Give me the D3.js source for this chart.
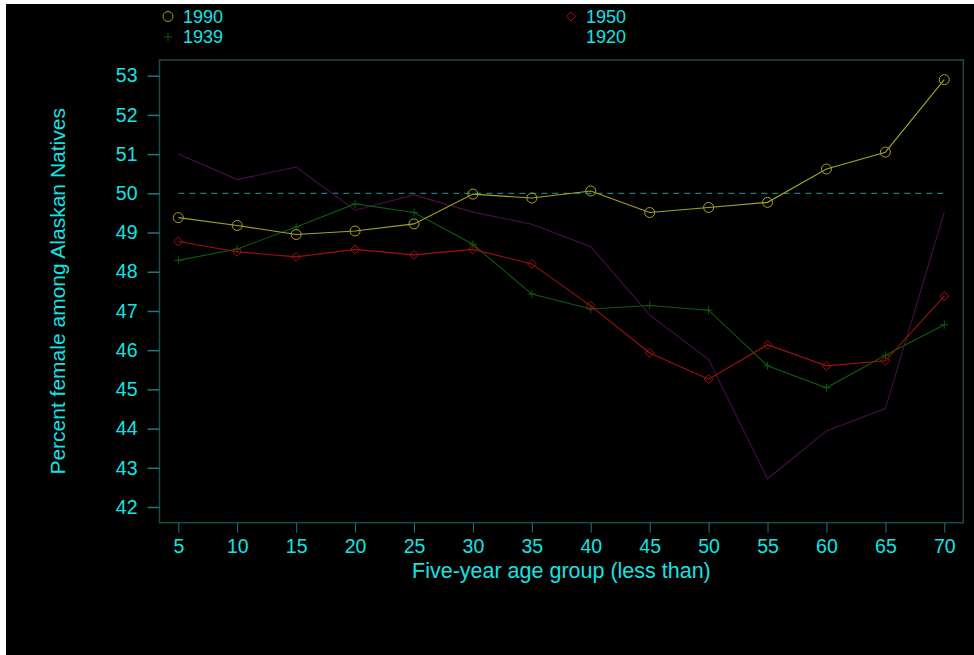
<!DOCTYPE html>
<html>
<head>
<meta charset="utf-8">
<script src="https://cdn.jsdelivr.net/npm/d3@7/dist/d3.min.js"></script>
<style>
  html, body { margin: 0; padding: 0; background: #ffffff; }
  svg { display: block; }
  text { font-family: "Liberation Sans", Arial, sans-serif; }
</style>
</head>
<body>
<svg id="chart" width="974" height="655"></svg>
<script>
// Age groups (upper bound of each five-year group)
const ages = [5, 10, 15, 20, 25, 30, 35, 40, 45, 50, 55, 60, 65, 70];

// Percent female among Alaskan Natives, by census year
const pct1990 = [49.38, 49.18, 48.95, 49.04, 49.22, 49.98, 49.88, 50.06, 49.51, 49.64, 49.77, 50.62, 51.05, 52.90];
const pct1950 = [48.77, 48.51, 48.38, 48.57, 48.43, 48.57, 48.20, 47.13, 45.93, 45.26, 46.14, 45.60, 45.73, 47.38];
const pct1939 = [48.29, 48.58, 49.14, 49.73, 49.51, 48.70, 47.43, 47.05, 47.14, 47.02, 45.60, 45.04, 45.87, 46.65];
const pct1920 = [51.00, 50.35, 50.67, 49.57, 49.96, 49.52, 49.21, 48.64, 46.90, 45.76, 42.72, 43.94, 44.51, 49.52];

const yTicks = [42, 43, 44, 45, 46, 47, 48, 49, 50, 51, 52, 53];
const parity = 50;

const series = [
  { name: "1990", values: pct1990, color: "#a3a326", marker: "circle" },
  { name: "1939", values: pct1939, color: "#0c5c0c", marker: "plus" },
  { name: "1950", values: pct1950, color: "#a01010", marker: "diamond" },
  { name: "1920", values: pct1920, color: "#4a0d4a", marker: "none" }
];

const svg = d3.select("#chart");
const W = 974, H = 655;

// dark canvas with thin light margin at top and left
svg.append("rect").attr("x", 6).attr("y", 4).attr("width", W - 6).attr("height", H - 4).attr("fill", "#000000");

const frame = { left: 159.5, top: 60, right: 963.3, bottom: 522.7 };

const x = d3.scaleLinear().domain([5, 70]).range([178.3, 944.3]);
const y = d3.scaleLinear().domain([42, 53]).range([507, 75.7]);

const labelColor = "#14e3e3";
const tickColor = "#237777";
const frameColor = "#1b4c4c";

// plot frame
svg.append("rect")
  .attr("x", frame.left).attr("y", frame.top)
  .attr("width", frame.right - frame.left).attr("height", frame.bottom - frame.top)
  .attr("fill", "none").attr("stroke", frameColor).attr("stroke-width", 1.5);

// y axis
const yAxis = d3.axisLeft(y).tickValues(yTicks).tickSize(12).tickPadding(10).tickFormat(d3.format("d"));
const gy = svg.append("g").attr("transform", `translate(${frame.left},0)`).call(yAxis);
gy.select(".domain").remove();
gy.selectAll(".tick line").attr("stroke", tickColor).attr("stroke-width", 1.5);
gy.selectAll(".tick text").attr("fill", labelColor).attr("font-size", 19.5)
  .attr("font-family", "Liberation Sans, Arial, sans-serif");

// x axis
const xAxis = d3.axisBottom(x).tickValues(ages).tickSize(10).tickPadding(6).tickFormat(d3.format("d"));
const gx = svg.append("g").attr("transform", `translate(0,${frame.bottom})`).call(xAxis);
gx.select(".domain").remove();
gx.selectAll(".tick line").attr("stroke", tickColor).attr("stroke-width", 1);
gx.selectAll(".tick text").attr("fill", labelColor).attr("font-size", 19.5)
  .attr("font-family", "Liberation Sans, Arial, sans-serif");

// axis titles
svg.append("text")
  .attr("x", (frame.left + frame.right) / 2).attr("y", 578)
  .attr("text-anchor", "middle").attr("fill", labelColor).attr("font-size", 21.5)
  .text("Five-year age group (less than)");

svg.append("text")
  .attr("transform", `translate(65,${(frame.top + frame.bottom) / 2}) rotate(-90)`)
  .attr("text-anchor", "middle").attr("fill", labelColor).attr("font-size", 21)
  .text("Percent female among Alaskan Natives");

// 50% reference line
svg.append("line")
  .attr("x1", x(5)).attr("x2", x(70))
  .attr("y1", y(parity)).attr("y2", y(parity))
  .attr("stroke", tickColor).attr("stroke-width", 1.2).attr("stroke-dasharray", "6,5");

// marker drawing helper
function drawMarker(g, type, cx, cy, color) {
  if (type === "circle") {
    g.append("circle").attr("cx", cx).attr("cy", cy).attr("r", 5)
      .attr("fill", "none").attr("stroke", color).attr("stroke-width", 1);
  } else if (type === "diamond") {
    const s = 4.5;
    g.append("path")
      .attr("d", `M${cx},${cy - s}L${cx + s},${cy}L${cx},${cy + s}L${cx - s},${cy}Z`)
      .attr("fill", "none").attr("stroke", color).attr("stroke-width", 1);
  } else if (type === "plus") {
    const s = 4;
    g.append("path")
      .attr("d", `M${cx - s},${cy}L${cx + s},${cy}M${cx},${cy - s}L${cx},${cy + s}`)
      .attr("stroke", color).attr("stroke-width", 1);
  }
}

const line = d3.line().x((d, i) => x(ages[i])).y(d => y(d));

// draw series (1920 first so others sit on top)
const drawOrder = [series[3], series[1], series[2], series[0]];
drawOrder.forEach(s => {
  const g = svg.append("g");
  g.append("path").datum(s.values).attr("d", line)
    .attr("fill", "none").attr("stroke", s.color).attr("stroke-width", 1.1);
  s.values.forEach((v, i) => drawMarker(g, s.marker, x(ages[i]), y(v), s.color));
});

// legend
const legendPos = {
  "1990": [168, 16.5], "1939": [168, 37],
  "1950": [571, 16.5], "1920": [571, 37]
};
series.forEach(s => {
  const [lx, ly] = legendPos[s.name];
  const g = svg.append("g");
  drawMarker(g, s.marker, lx, ly, s.color);
  g.append("text").attr("x", lx + 15).attr("y", ly).attr("dy", "0.35em")
    .attr("fill", labelColor).attr("font-size", 18).text(s.name);
});
</script>
</body>
</html>
